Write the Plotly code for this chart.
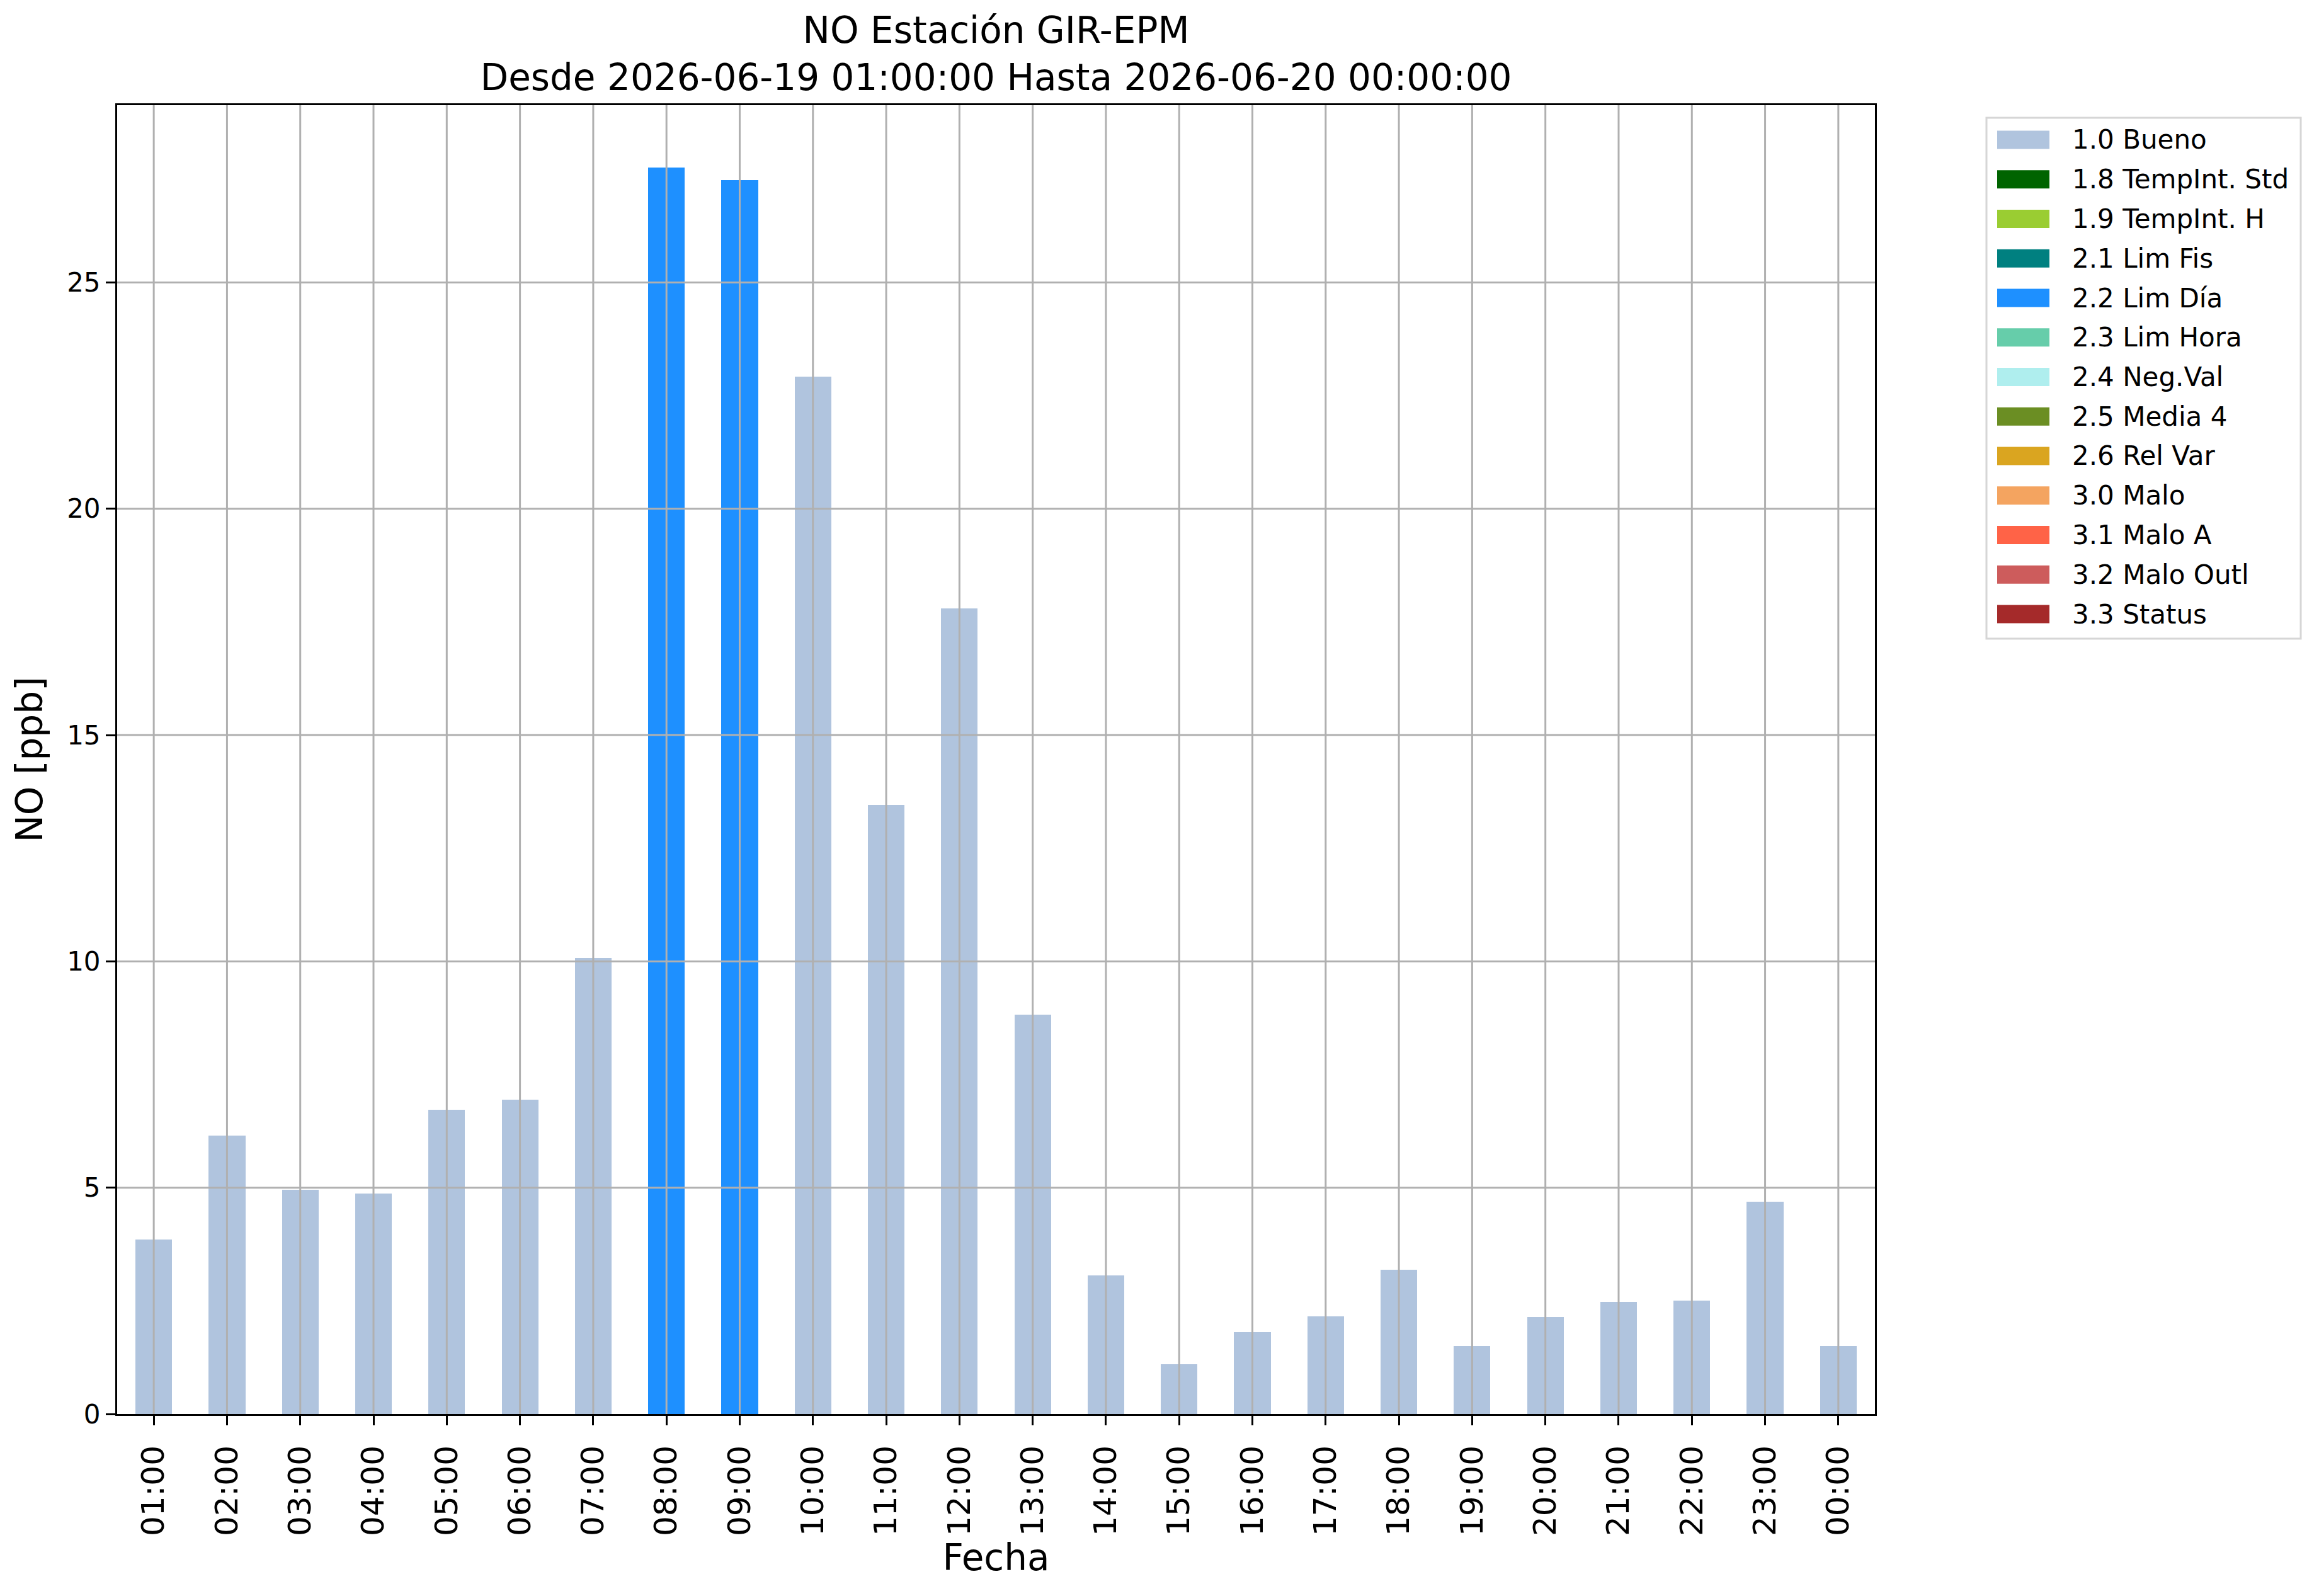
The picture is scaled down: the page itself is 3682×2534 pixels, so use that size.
import plotly.graph_objects as go

# Hourly NO concentration and quality flag per hour
hours = ["01:00", "02:00", "03:00", "04:00", "05:00", "06:00", "07:00", "08:00",
         "09:00", "10:00", "11:00", "12:00", "13:00", "14:00", "15:00", "16:00",
         "17:00", "18:00", "19:00", "20:00", "21:00", "22:00", "23:00", "00:00"]
no_ppb = [3.86, 6.15, 4.96, 4.87, 6.72, 6.94, 10.07, 27.54,
          27.26, 22.92, 13.46, 17.80, 8.82, 3.06, 1.10, 1.81,
          2.16, 3.18, 1.50, 2.15, 2.48, 2.51, 4.69, 1.50]
hour_flags = ["1.0", "1.0", "1.0", "1.0", "1.0", "1.0", "1.0", "2.2",
              "2.2", "1.0", "1.0", "1.0", "1.0", "1.0", "1.0", "1.0",
              "1.0", "1.0", "1.0", "1.0", "1.0", "1.0", "1.0", "1.0"]

# Flag categories (legend)
flag_codes = ["1.0", "1.8", "1.9", "2.1", "2.2", "2.3", "2.4", "2.5", "2.6",
              "3.0", "3.1", "3.2", "3.3"]
flag_names = ["1.0 Bueno", "1.8 TempInt. Std", "1.9 TempInt. H", "2.1 Lim Fis",
              "2.2 Lim Día", "2.3 Lim Hora", "2.4 Neg.Val", "2.5 Media 4",
              "2.6 Rel Var", "3.0 Malo", "3.1 Malo A", "3.2 Malo Outl", "3.3 Status"]
flag_colors = ["#B0C4DE", "#006400", "#9ACD32", "#008080", "#1E90FF", "#66CDAA",
               "#AFEEEE", "#6B8E23", "#DAA520", "#F4A460", "#FF6347", "#CD5C5C",
               "#A52A2A"]

y_ticks = [0, 5, 10, 15, 20, 25]

FONT = "DejaVu Sans"
OFF = 8  # page body margin
W, H = 3682 - OFF, 2534 - OFF
# plot area in figure pixels
L, R, T, B = 186 - OFF, 2977 - OFF, 167 - OFF, 2245 - OFF


def px_x(x):
    # page pixel -> paper x
    return (x - OFF - L) / (R - L)


def px_y(y):
    # page pixel -> paper y
    return (B - (y - OFF)) / (B - T)


fig = go.Figure()

# One stacked bar series per flag, values only where the hour has that flag
for code, name, color in zip(flag_codes, flag_names, flag_colors):
    vals = [v if f == code else None for v, f in zip(no_ppb, hour_flags)]
    fig.add_trace(go.Bar(x=hours, y=vals, name=name, width=0.5,
                         marker=dict(color=color, line=dict(width=0)),
                         showlegend=False))

shapes = []
# grid lines drawn on top of the bars like in matplotlib
for h in hours:
    shapes.append(dict(type="line", xref="x", yref="paper", x0=h, x1=h, y0=0, y1=1,
                       line=dict(color="#b0b0b0", width=3), layer="above"))
for t in y_ticks[1:]:
    shapes.append(dict(type="line", xref="paper", yref="y", x0=0, x1=1, y0=t, y1=t,
                       line=dict(color="#b0b0b0", width=3), layer="above"))

# custom legend box
leg_left, leg_right, leg_top, leg_bottom = 3154, 3653, 187, 1014
shapes.append(dict(type="rect", xref="paper", yref="paper",
                   x0=px_x(leg_left), x1=px_x(leg_right),
                   y0=px_y(leg_bottom), y1=px_y(leg_top),
                   line=dict(color="#d6d6d6", width=3), fillcolor="white",
                   layer="above"))
annotations = []
row0, row_gap = 222, 62.75
for i, (name, color) in enumerate(zip(flag_names, flag_colors)):
    yc = row0 + i * row_gap
    shapes.append(dict(type="rect", xref="paper", yref="paper",
                       x0=px_x(3171), x1=px_x(3254),
                       y0=px_y(yc + 14.5), y1=px_y(yc - 14.5),
                       line=dict(width=0), fillcolor=color, layer="above"))
    annotations.append(dict(text=name, xref="paper", yref="paper",
                            x=px_x(3288), y=px_y(yc), xanchor="left", yanchor="middle",
                            showarrow=False, font=dict(family=FONT, size=42, color="black")))

fig.update_layout(
    width=W, height=H,
    margin=dict(l=L, r=W - R, t=T, b=H - B, pad=0),
    paper_bgcolor="white", plot_bgcolor="white",
    barmode="stack",
    showlegend=False,
    font=dict(family=FONT, color="black"),
    title=dict(text="NO Estación GIR-EPM<br>Desde 2026-06-19 01:00:00 Hasta 2026-06-20 00:00:00",
               x=0.5, xref="paper", xanchor="center",
               y=1 - 60 / H, yref="container", yanchor="top",
               font=dict(family=FONT, size=58, color="black")),
    shapes=shapes,
    annotations=annotations,
)

fig.update_xaxes(
    type="category", categoryorder="array", categoryarray=hours,
    range=[-0.5, len(hours) - 0.5],
    tickangle=-90, tickfont=dict(family=FONT, size=50, color="black"),
    ticklabelstandoff=12,
    ticks="outside", ticklen=15, tickwidth=3, tickcolor="black",
    showline=True, linecolor="black", linewidth=3, mirror=True,
    showgrid=False, zeroline=False,
    title=dict(text="Fecha", font=dict(family=FONT, size=58, color="black"), standoff=8),
)
fig.update_yaxes(
    range=[0, max(no_ppb) * 1.05],
    tickvals=y_ticks,
    tickfont=dict(family=FONT, size=42, color="black"),
    ticks="outside", ticklen=15, tickwidth=3, tickcolor="black",
    showline=True, linecolor="black", linewidth=3, mirror=True,
    showgrid=False, zeroline=False,
    title=dict(text="NO [ppb]", font=dict(family=FONT, size=58, color="black"), standoff=20),
)

fig.write_html("out.html")
